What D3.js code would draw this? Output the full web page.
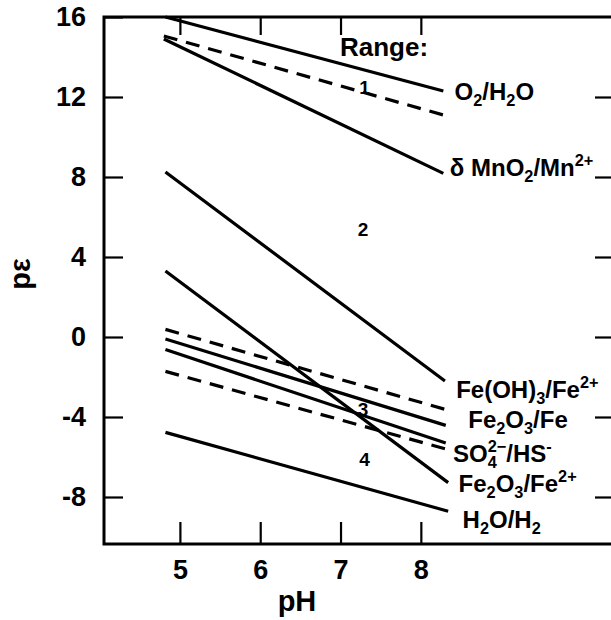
<!DOCTYPE html>
<html>
<head>
<meta charset="utf-8">
<script src="https://cdn.jsdelivr.net/npm/d3@7"></script>
<style>
  body { margin: 0; background: #fff; }
  svg { font-family: "Liberation Sans", Arial, sans-serif; font-weight: bold; }
</style>
</head>
<body>
<div id="vis"></div>
<script>
// Data (pH, pε at each end of every boundary line)
const LINE_NAMES = ["O2/H2O", "range1", "MnO2/Mn2+", "Fe(OH)3/Fe2+", "Fe2O3/Fe2+",
                    "range3top", "Fe2O3/Fe", "SO4/HS-", "range3bottom", "H2O/H2"];
const PH_START = [4.82, 4.80, 4.80, 4.82, 4.82, 4.82, 4.82, 4.82, 4.82, 4.82];
const PE_START = [16.0, 15.05, 14.9, 8.25, 3.3, 0.38, -0.1, -0.63, -1.72, -4.77];
const PH_END   = [8.28, 8.28, 8.28, 8.30, 8.34, 8.33, 8.31, 8.31, 8.33, 8.34];
const PE_END   = [12.3, 11.1, 8.18, -2.2, -7.28, -3.65, -4.42, -5.3, -5.62, -8.71];
const DASHED   = [false, true, false, false, false, true, false, false, true, false];

// line labels: text pieces (b = base, sub, sup; stack = drawn under the previous piece)
const LABEL_PARTS = [
    [["O", "b"], ["2", "sub"], ["/H", "b"], ["2", "sub"], ["O", "b"]],
    [["δ MnO", "b"], ["2", "sub"], ["/Mn", "b"], ["2+", "sup"]],
    [["Fe(OH)", "b"], ["3", "sub"], ["/Fe", "b"], ["2+", "sup"]],
    [["Fe", "b"], ["2", "sub"], ["O", "b"], ["3", "sub"], ["/Fe", "b"]],
    [["SO", "b"], ["2−", "sup"], ["4", "sub", true], [" /HS", "b"], ["-", "sup"]],
    [["Fe", "b"], ["2", "sub"], ["O", "b"], ["3", "sub"], ["/Fe", "b"], ["2+", "sup"]],
    [["H", "b"], ["2", "sub"], ["O/H", "b"], ["2", "sub"]]
];
const LABEL_PH = [8.42, 8.36, 8.44, 8.59, 8.40, 8.47, 8.52];
const LABEL_PE = [12.3, 8.5, -2.6, -4.1, -5.8, -7.3, -9.1];

// range numbers
const REGION_NAMES = ["1", "2", "3", "4"];
const REGION_PH = [7.3, 7.28, 7.28, 7.3];
const REGION_PE = [12.5, 5.4, -3.6, -6.1];

const PH_TICKS = [5, 6, 7, 8];
const PE_TICKS = [-8, -4, 0, 4, 8, 12, 16];

// Constants
const WIDTH = 611, HEIGHT = 620;
const FRAME = { left: 104, right: 614, top: 17, bottom: 544 };

const svg = d3.select("#vis").append("svg")
    .attr("width", WIDTH)
    .attr("height", HEIGHT);

const X_SCALE = d3.scaleLinear().domain([4.055, 10.405]).range([FRAME.left, FRAME.right]);
const Y_SCALE = d3.scaleLinear().domain([-10.35, 16]).range([FRAME.bottom, FRAME.top]);

// axes (ticks point inward)
function styleAxis(g, showText) {
    g.select(".domain").remove();
    g.selectAll(".tick line").attr("stroke", "#000").attr("stroke-width", 2.2);
    g.selectAll(".tick text")
        .attr("font-family", "Liberation Sans, Arial, sans-serif")
        .attr("font-weight", "bold")
        .attr("font-size", 27)
        .attr("fill", "#000");
    if (!showText) g.selectAll(".tick text").remove();
}

svg.append("g")
    .attr("transform", "translate(" + FRAME.left + ",0)")
    .call(d3.axisLeft(Y_SCALE).tickValues(PE_TICKS).tickSize(-19).tickPadding(18).tickFormat(d => String(d)))
    .call(g => styleAxis(g, true));

svg.append("g")
    .attr("transform", "translate(" + FRAME.right + ",0)")
    .call(d3.axisRight(Y_SCALE).tickValues(PE_TICKS.slice(0, 6)).tickSize(-19))
    .call(g => styleAxis(g, false));

svg.append("g")
    .attr("transform", "translate(0," + FRAME.bottom + ")")
    .call(d3.axisBottom(X_SCALE).tickValues(PH_TICKS).tickSize(-22).tickPadding(16).tickFormat(d => String(d)))
    .call(g => styleAxis(g, true));

svg.append("g")
    .attr("transform", "translate(0," + FRAME.top + ")")
    .call(d3.axisTop(X_SCALE).tickValues(PH_TICKS).tickSize(-18))
    .call(g => styleAxis(g, false));

// frame
svg.append("rect")
    .attr("x", FRAME.left)
    .attr("y", FRAME.top)
    .attr("width", FRAME.right - FRAME.left)
    .attr("height", FRAME.bottom - FRAME.top)
    .attr("fill", "none")
    .attr("stroke", "#000")
    .attr("stroke-width", 3);

// boundary lines
const line = d3.line().x(d => X_SCALE(d[0])).y(d => Y_SCALE(d[1]));
svg.selectAll(".boundary")
    .data(LINE_NAMES.map((n, i) => [[PH_START[i], PE_START[i]], [PH_END[i], PE_END[i]]]))
    .enter()
    .append("path")
    .attr("class", "boundary")
    .attr("d", line)
    .attr("fill", "none")
    .attr("stroke", "#000")
    .attr("stroke-width", 3.2)
    .attr("stroke-dasharray", (d, i) => DASHED[i] ? "14,9" : null);

// labels with sub/superscripts
const LABEL_SIZE = 24;
function drawLabel(x, yc, parts) {
    const g = svg.append("g");
    let cx = x, prevStart = x;
    parts.forEach(p => {
        const base = p[1] === "b";
        const fs = base ? LABEL_SIZE : LABEL_SIZE * 0.68;
        const shift = p[1] === "sup" ? -LABEL_SIZE * 0.42 : (p[1] === "sub" ? LABEL_SIZE * 0.28 : 0);
        const px = p[2] ? prevStart : cx;
        const t = g.append("text")
            .attr("x", px)
            .attr("y", yc + LABEL_SIZE * 0.36 + shift)
            .attr("font-size", fs)
            .text(p[0]);
        const w = t.node().getComputedTextLength();
        if (p[2]) {
            cx = Math.max(cx, px + w);
        } else {
            prevStart = px;
            cx = px + w;
        }
    });
}
LABEL_PARTS.forEach((parts, i) => drawLabel(X_SCALE(LABEL_PH[i]), Y_SCALE(LABEL_PE[i]), parts));

// range annotations
svg.append("text")
    .attr("x", 340)
    .attr("y", 56)
    .attr("font-size", 26)
    .text("Range:");

svg.selectAll(".region")
    .data(REGION_NAMES)
    .enter()
    .append("text")
    .attr("class", "region")
    .attr("x", (d, i) => X_SCALE(REGION_PH[i]))
    .attr("y", (d, i) => Y_SCALE(REGION_PE[i]))
    .attr("text-anchor", "middle")
    .attr("dy", "0.36em")
    .attr("font-size", 19)
    .text(d => d);

// axis titles
svg.append("text")
    .attr("x", 297)
    .attr("y", 611)
    .attr("text-anchor", "middle")
    .attr("font-size", 29)
    .text("pH");

svg.append("text")
    .attr("transform", "translate(30,274) rotate(-90)")
    .attr("text-anchor", "middle")
    .attr("font-size", 29)
    .text("pε");
</script>
</body>
</html>
